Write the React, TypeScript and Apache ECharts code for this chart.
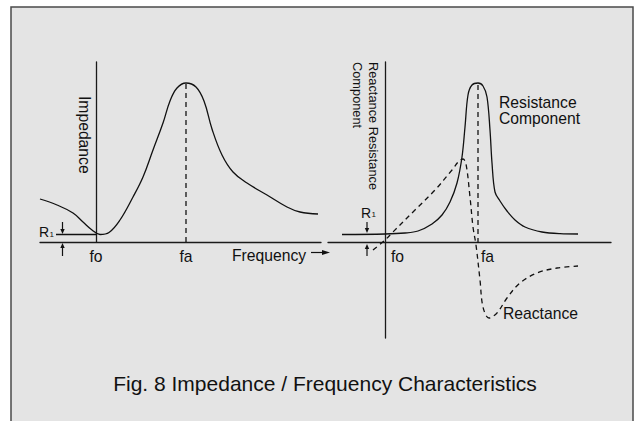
import React, { useEffect, useRef } from "react";
import * as echarts from "echarts";

const FONT = "'Liberation Sans', Arial, Helvetica, sans-serif";

// Left panel: impedance vs frequency (origin at fo, R1 level above axis)
const impedance: [number, number][] = [
  [-56, 43], [-39, 37], [-23, 29], [-13, 20], [-4, 12], [4, 7.5], [13, 9.5],
  [24, 22], [37, 45], [47, 65], [57, 92], [67, 119], [74, 141], [81, 154], [90, 159],
  [100, 155], [108, 141], [116, 113], [126, 87], [137, 70], [151, 59], [171, 47],
  [191, 35], [204, 30], [222, 28],
];
const r1Left: [number, number][] = [[-40, 7.5], [0, 7.5]];
const faLeft: [number, number][] = [[90, 0], [90, 159]];

// Right panel: resistance and reactance components
const resistance: [number, number][] = [
  [-43, 7.5], [0, 8], [20, 9], [33, 11], [47, 18], [57, 27], [65, 40], [72, 59],
  [77, 85], [80, 115], [83, 147], [87, 157], [93, 159], [98, 156], [102, 145],
  [105, 112], [107, 79], [110, 50], [115, 41], [122, 31], [130, 22], [140, 15],
  [157, 10], [175, 8.3], [193, 8],
];
const reactance: [number, number][] = [
  [-12, -8], [0, 2], [7, 9], [30, 32], [50, 52], [67, 72], [74, 81], [78, 83],
  [81, 78], [85, 45], [88, 15], [91, -3], [95, -38], [98, -65], [104, -76],
  [112, -71], [122, -56], [135, -41], [152, -31], [172, -26], [193, -24],
];
const faRight: [number, number][] = [[93, -1], [93, 159]];

const title = "Fig. 8 Impedance / Frequency Characteristics";

const axisStyle = { color: "#1a1a1a", width: 1.3 };
const curveStyle = { color: "#111", width: 1.3 };
const dashStyle = { color: "#111", width: 1.3, type: [5, 4] as number[] };

function valueAxis(gridIndex: number, min: number, max: number) {
  return {
    type: "value",
    gridIndex,
    min,
    max,
    axisLine: { show: true, onZero: true, lineStyle: axisStyle },
    axisTick: { show: false },
    axisLabel: { show: false },
    splitLine: { show: false },
  };
}

function lineSeries(xi: number, data: [number, number][], style: any, smooth: number | boolean) {
  return {
    type: "line",
    xAxisIndex: xi,
    yAxisIndex: xi,
    data,
    smooth,
    showSymbol: false,
    symbol: "none",
    lineStyle: style,
    silent: true,
    z: 3,
  };
}

function txt(text: string, x: number, y: number, opts: any = {}) {
  return {
    type: "text",
    x,
    y,
    rotation: opts.rotation || 0,
    z: 10,
    style: {
      text,
      fill: "#111",
      font: `${opts.size || 15.7}px ${FONT}`,
      align: opts.align || "left",
      verticalAlign: opts.va || "middle",
    },
  };
}

function seg(x1: number, y1: number, x2: number, y2: number) {
  return {
    type: "line",
    z: 10,
    shape: { x1, y1, x2, y2 },
    style: { stroke: "#111", lineWidth: 1.2 },
  };
}

function tri(points: number[][]) {
  return { type: "polygon", z: 10, shape: { points }, style: { fill: "#111" } };
}

export default function App() {
  const ref = useRef<HTMLDivElement>(null);
  useEffect(() => {
    const chart = echarts.init(ref.current!, null, { renderer: "svg" });
    const option: any = {
      animation: false,
      backgroundColor: "#ffffff",
      grid: [
        { left: 40, top: 62, width: 281, height: 180 },
        { left: 328, top: 62, width: 283, height: 276 },
      ],
      xAxis: [valueAxis(0, -56, 225), valueAxis(1, -57, 226)],
      yAxis: [valueAxis(0, 0, 180), valueAxis(1, -96, 180)],
      series: [
        lineSeries(0, impedance, curveStyle, 0.4),
        lineSeries(0, r1Left, curveStyle, false),
        lineSeries(0, faLeft, dashStyle, false),
        lineSeries(1, resistance, curveStyle, 0.35),
        lineSeries(1, reactance, dashStyle, 0.35),
        lineSeries(1, faRight, dashStyle, false),
      ],
      graphic: [
        {
          type: "rect",
          z: -10,
          shape: { x: 11, y: 7, width: 622, height: 440 },
          style: { fill: "#e4e4e4", stroke: "#4a4a4a", lineWidth: 1.5 },
        },
        txt("Impedance", 84, 96, { rotation: -Math.PI / 2 }),
        txt("Reactance Resistance", 373, 62, { rotation: -Math.PI / 2, size: 12.8 }),
        txt("Component", 357, 62, { rotation: -Math.PI / 2, size: 12.8 }),
        txt("Resistance", 499, 102),
        txt("Component", 499, 118),
        txt("Reactance", 503, 313),
        txt("fo", 96, 256, { align: "center" }),
        txt("fa", 186, 256, { align: "center" }),
        txt("Frequency", 232, 255),
        txt("fo", 391, 256),
        txt("fa", 481, 256),
        txt("R", 39, 232, { size: 14 }),
        txt("1", 49.5, 234, { size: 8 }),
        txt("R", 361, 212.5, { size: 14 }),
        txt("1", 371.5, 214.5, { size: 8 }),
        // Frequency arrow
        seg(311, 252.5, 324, 252.5),
        tri([[322, 250], [322, 255], [330, 252.5]]),
        // R1 arrows left
        seg(62.5, 222, 62.5, 230),
        tri([[60.3, 229], [64.7, 229], [62.5, 234]]),
        seg(62.5, 248, 62.5, 256),
        tri([[60.3, 248], [64.7, 248], [62.5, 243]]),
        // R1 arrows right
        seg(367, 222, 367, 229),
        tri([[364.8, 228], [369.2, 228], [367, 233]]),
        seg(367, 249, 367, 256),
        tri([[364.8, 249], [369.2, 249], [367, 244]]),
        txt(title, 325, 383, { align: "center", size: 21 }),
      ],
    };
    chart.setOption(option);
    return () => chart.dispose();
  }, []);
  return (
    <div
      ref={ref}
      style={{ position: "absolute", left: 0, top: 0, width: 638, height: 421 }}
    />
  );
}
